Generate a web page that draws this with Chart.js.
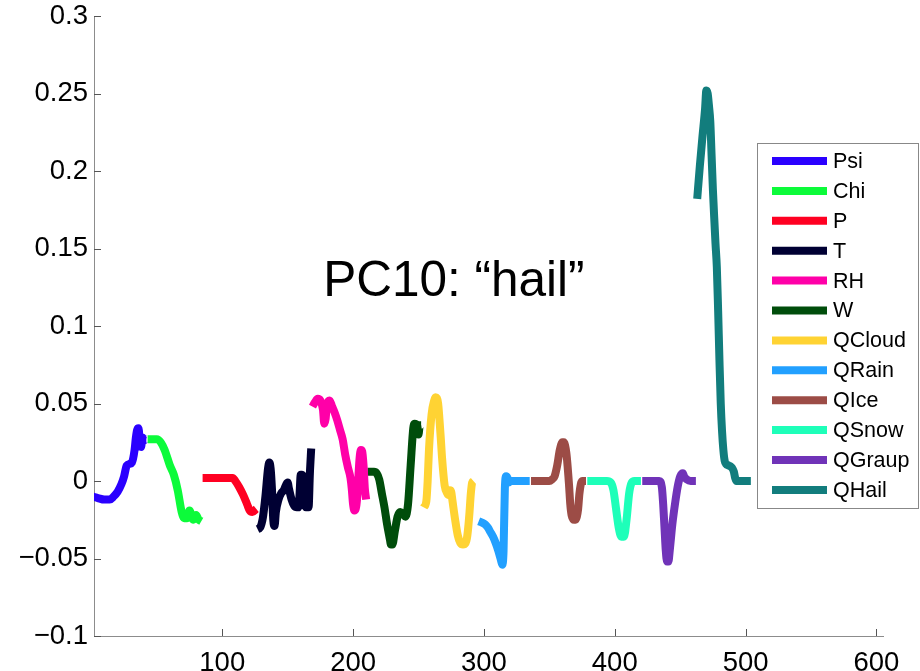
<!DOCTYPE html>
<html>
<head>
<meta charset="utf-8">
<script src="https://cdn.jsdelivr.net/npm/chart.js@4/dist/chart.umd.min.js"></script>
<style>
  html, body { margin: 0; padding: 0; background: #ffffff; }
  #wrap { width: 920px; height: 671px; position: relative; }
</style>
</head>
<body>
<div id="wrap"><canvas id="pc"></canvas></div>
<script>
// Principal component 10 loadings, by state variable; each variable spans its own block of levels.
const seriesNames = ["Psi", "Chi", "P", "T", "RH", "W", "QCloud", "QRain", "QIce", "QSnow", "QGraup", "QHail"];
const seriesColors = ["#2a00ff", "#0cfb3a", "#ff0022", "#000033", "#ff00a8", "#004d0b",
                      "#ffd333", "#22a0ff", "#9c4c46", "#1effb9", "#7033b8", "#127d7d"];

// [level index, loading]
const psi = [[1,-0.010],[5,-0.011],[10,-0.012],[14,-0.012],[17,-0.010],[20,-0.007],[23,-0.002],[25,0.003],
  [27,0.010],[29,0.011],[31,0.012],[33,0.020],[34,0.028],[35,0.033],[36,0.034],[37,0.026],[38,0.022],
  [39,0.028],[40,0.026],[41,0.027],[42,0.027]];
const chi = [[43,0.027],[47,0.027],[50,0.027],[53,0.025],[56,0.020],[60,0.010],[63,0.004],[66,-0.006],
  [69,-0.020],[71,-0.024],[73,-0.024],[75,-0.019],[77,-0.024],[78,-0.025],[80,-0.022],[82,-0.025],[84,-0.026]];
const pres = [[85,0.002],[90,0.002],[95,0.002],[100,0.002],[105,0.002],[108,0.002],[110,0.000],[113,-0.004],
  [116,-0.009],[119,-0.015],[121,-0.019],[123,-0.020],[126,-0.018]];
const temp = [[127,-0.031],[129,-0.030],[131,-0.024],[133,-0.010],[135,0.008],[136,0.012],[137,0.008],
  [138,-0.005],[139,-0.025],[140,-0.029],[141,-0.020],[143,-0.012],[145,-0.008],[147,-0.006],[149,-0.002],
  [150,-0.001],[151,-0.005],[153,-0.012],[155,-0.016],[157,-0.017],[158,-0.017],[159,-0.010],[160,0.004],
  [161,0.004],[162,0.002],[163,-0.012],[164,-0.017],[166,-0.017],[167,0.005],[168,0.021]];
const rh = [[169,0.048],[171,0.051],[173,0.053],[175,0.052],[177,0.046],[178,0.037],[179,0.040],[180,0.049],
  [182,0.052],[184,0.048],[186,0.044],[188,0.039],[190,0.033],[192,0.027],[194,0.017],[196,0.009],
  [198,0.002],[199,-0.005],[200,-0.015],[201,-0.019],[202,-0.018],[203,-0.012],[204,0.002],[205,0.015],
  [206,0.020],[207,0.019],[208,0.010],[209,-0.005],[210,-0.012]];
const wvel = [[211,0.006],[214,0.006],[216,0.006],[218,0.005],[220,0.001],[222,-0.008],[224,-0.017],
  [226,-0.028],[228,-0.037],[229,-0.041],[230,-0.041],[232,-0.032],[234,-0.023],[236,-0.020],[238,-0.021],
  [240,-0.023],[242,-0.015],[244,0.010],[246,0.034],[247,0.037],[249,0.036],[250,0.030],[251,0.036],[252,0.036]];
const qcloud = [[254,-0.017],[256,-0.013],[257,0.000],[258,0.020],[260,0.043],[262,0.052],[263,0.054],
  [265,0.050],[266,0.040],[267,0.028],[268,0.015],[270,-0.003],[272,-0.008],[273,-0.009],[274,-0.006],
  [275,-0.007],[276,-0.013],[278,-0.025],[280,-0.035],[282,-0.040],[284,-0.041],[286,-0.040],[287,-0.037],
  [288,-0.030],[289,-0.020],[290,-0.008],[291,-0.001],[292,0.000]];
const qrain = [[296,-0.026],[299,-0.027],[301,-0.028],[303,-0.030],[305,-0.033],[307,-0.036],[309,-0.040],
  [311,-0.045],[313,-0.051],[314,-0.054],[315,-0.045],[316,-0.005],[317,0.003],[318,0.002],[319,-0.001],
  [320,0.000],[325,0.000],[330,0.000],[335,0.000]];
const qice = [[336,0.000],[340,0.000],[345,0.000],[350,0.000],[352,0.001],[354,0.003],[356,0.010],
  [358,0.020],[360,0.025],[361,0.025],[363,0.018],[365,-0.002],[366,-0.015],[367,-0.022],[369,-0.025],
  [370,-0.025],[372,-0.018],[373,-0.008],[375,0.000],[378,0.000]];
const qsnow = [[379,0.000],[385,0.000],[390,0.000],[394,0.000],[397,-0.001],[399,-0.006],[401,-0.018],
  [403,-0.030],[405,-0.036],[407,-0.036],[409,-0.025],[411,-0.008],[413,-0.001],[415,0.000],[420,0.000]];
const qgraup = [[421,0.000],[425,0.000],[430,0.000],[434,0.000],[436,-0.004],[437,-0.015],[438,-0.030],
  [439,-0.045],[440,-0.052],[441,-0.052],[442,-0.045],[444,-0.028],[446,-0.015],[448,-0.004],[450,0.003],
  [452,0.005],[453,0.003],[455,0.001],[458,0.000],[462,0.000]];
const qhail = [[463,0.182],[465,0.203],[467,0.222],[469,0.240],[470,0.252],[471,0.250],[472,0.242],
  [473,0.232],[474,0.210],[475,0.188],[476,0.170],[477,0.153],[478,0.138],[479,0.110],[480,0.078],
  [481,0.050],[482,0.032],[483,0.020],[484,0.013],[485,0.011],[487,0.010],[489,0.009],[490,0.008],
  [491,0.006],[492,0.002],[493,0.000],[498,0.000],[504,0.000]];

const allSeries = [psi, chi, pres, temp, rh, wvel, qcloud, qrain, qice, qsnow, qgraup, qhail];

const xTickValues = [100, 200, 300, 400, 500, 600];
const yTickValues = [-0.1, -0.05, 0, 0.05, 0.1, 0.15, 0.2, 0.25, 0.3];
const titleText = "PC10: \u201Chail\u201D";

const FONT = "'Liberation Sans', Arial, Helvetica, sans-serif";

const datasets = allSeries.map((s, i) => ({
  label: seriesNames[i],
  data: s.map(([x, y]) => ({ x, y })),
  borderColor: seriesColors[i],
  backgroundColor: seriesColors[i],
  borderWidth: 8,
  pointRadius: 0,
  fill: false,
  cubicInterpolationMode: 'monotone',
  borderCapStyle: 'butt',
  borderJoinStyle: 'round'
}));

function fmtTick(v) {
  const s = String(Number(v.toFixed(2)));
  return s.replace('-', '\u2212');
}

// Inward tick marks on the left and bottom axes
const inwardTicks = {
  id: 'inwardTicks',
  afterDatasetsDraw(chart) {
    const { ctx, chartArea: a, scales: { x, y } } = chart;
    ctx.save();
    ctx.strokeStyle = '#555555';
    ctx.lineWidth = 1;
    const L = 7;
    ctx.beginPath();
    yTickValues.forEach(v => {
      const py = Math.round(y.getPixelForValue(v)) + 0.5;
      ctx.moveTo(a.left, py); ctx.lineTo(a.left + L, py);
    });
    xTickValues.forEach(v => {
      const px = Math.round(x.getPixelForValue(v)) + 0.5;
      ctx.moveTo(px, a.bottom); ctx.lineTo(px, a.bottom - L);
    });
    ctx.stroke();
    ctx.restore();
  }
};

// Annotation text placed in data space
const titleLabel = {
  id: 'titleLabel',
  afterDatasetsDraw(chart) {
    const { ctx, scales: { x, y } } = chart;
    ctx.save();
    ctx.fillStyle = '#000000';
    ctx.font = `49.5px ${FONT}`;
    ctx.textAlign = 'center';
    ctx.textBaseline = 'middle';
    ctx.fillText(titleText, x.getPixelForValue(277), y.getPixelForValue(0.128));
    ctx.restore();
  }
};

// Boxed legend on the right
const boxLegend = {
  id: 'boxLegend',
  afterDraw(chart) {
    const { ctx } = chart;
    const ds = chart.data.datasets;
    const bx = 757.5, by = 143.5, bw = 161, bh = 365;
    ctx.save();
    ctx.fillStyle = '#ffffff';
    ctx.fillRect(bx, by, bw, bh);
    ctx.strokeStyle = '#888888';
    ctx.lineWidth = 1;
    ctx.strokeRect(bx, by, bw, bh);
    ctx.font = `21.5px ${FONT}`;
    ctx.textBaseline = 'middle';
    ctx.textAlign = 'left';
    ds.forEach((d, i) => {
      const cy = 161 + i * 29.9;
      ctx.strokeStyle = d.borderColor;
      ctx.lineWidth = 8;
      ctx.lineCap = 'butt';
      ctx.beginPath();
      ctx.moveTo(772, cy); ctx.lineTo(827, cy);
      ctx.stroke();
      ctx.fillStyle = '#000000';
      ctx.fillText(d.label, 833, cy + 1);
    });
    ctx.restore();
  }
};

new Chart(document.getElementById('pc'), {
  type: 'line',
  data: { datasets },
  options: {
    responsive: true,
    maintainAspectRatio: false,
    animation: false,
    events: [],
    layout: { padding: { top: 16, right: 37, bottom: 0, left: 0 } },
    plugins: { legend: { display: false }, tooltip: { enabled: false }, title: { display: false } },
    scales: {
      x: {
        type: 'linear',
        min: 2,
        max: 605,
        afterBuildTicks(scale) { scale.ticks = xTickValues.map(v => ({ value: v })); },
        afterFit(scale) { scale.height = 35; scale.paddingLeft = 0; scale.paddingRight = 0; },
        grid: { display: true, drawOnChartArea: false, drawTicks: false },
        border: { display: true, color: '#8c8c8c', width: 1 },
        ticks: {
          color: '#000000',
          font: { family: FONT, size: 27.5 },
          padding: 11,
          maxRotation: 0,
          autoSkip: false,
          callback: v => String(v)
        }
      },
      y: {
        type: 'linear',
        min: -0.1,
        max: 0.3,
        afterBuildTicks(scale) { scale.ticks = yTickValues.map(v => ({ value: v })); },
        afterFit(scale) { scale.width = 94; scale.paddingTop = 0; scale.paddingBottom = 0; },
        grid: { display: true, drawOnChartArea: false, drawTicks: false },
        border: { display: true, color: '#8c8c8c', width: 1 },
        ticks: {
          color: '#000000',
          font: { family: FONT, size: 27.5 },
          padding: 6,
          autoSkip: false,
          callback: v => fmtTick(v)
        }
      }
    }
  },
  plugins: [inwardTicks, titleLabel, boxLegend]
});
</script>
</body>
</html>
